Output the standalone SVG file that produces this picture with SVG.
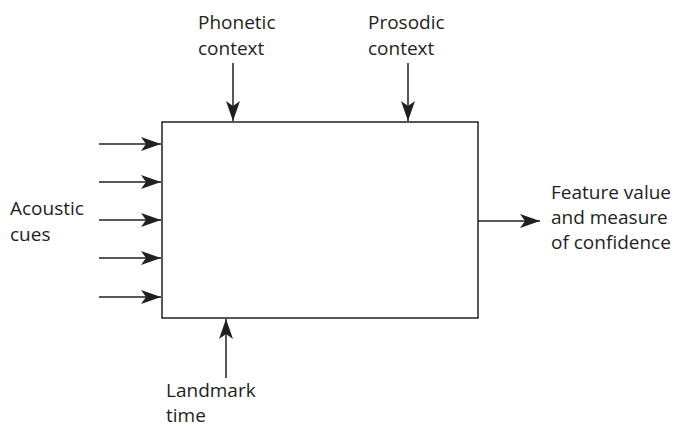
<svg xmlns="http://www.w3.org/2000/svg" width="678" height="427" viewBox="0 0 678 427">
<style>
text{font-family:"Open Sans","Noto Sans","Liberation Sans",sans-serif;font-size:19px;fill:#231f20}
.ln{stroke:#231f20;stroke-width:1.5;fill:none}
</style>
<defs>
<marker id="ah" viewBox="0 0 20 14" refX="20" refY="7" markerWidth="20" markerHeight="14" markerUnits="userSpaceOnUse" orient="auto">
<path d="M0,0 L20,7 L0,14 L5,7 Z" fill="#231f20"/>
</marker>
</defs>
<rect width="678" height="427" fill="#fff"/>
<g id="box"><rect class="ln" x="162" y="122" width="316" height="196"/></g>
<g id="phonetic"><text x="198" y="29">Phonetic</text><text x="198" y="55">context</text></g>
<g id="prosodic"><text x="368" y="29">Prosodic</text><text x="368" y="55">context</text></g>
<g id="acoustic"><text x="10" y="215">Acoustic</text><text x="10" y="241">cues</text></g>
<g id="output"><text x="551" y="199">Feature value</text><text x="551" y="224">and measure</text><text x="551" y="249">of confidence</text></g>
<g id="landmark"><text x="166" y="397">Landmark</text><text x="166" y="422">time</text></g>
<g id="connectors">
<line class="ln" x1="233" y1="63" x2="233" y2="121" marker-end="url(#ah)"/>
<line class="ln" x1="408" y1="63" x2="408" y2="121" marker-end="url(#ah)"/>
<line class="ln" x1="99" y1="144" x2="161" y2="144" marker-end="url(#ah)"/>
<line class="ln" x1="99" y1="182" x2="161" y2="182" marker-end="url(#ah)"/>
<line class="ln" x1="99" y1="220" x2="161" y2="220" marker-end="url(#ah)"/>
<line class="ln" x1="99" y1="258" x2="161" y2="258" marker-end="url(#ah)"/>
<line class="ln" x1="99" y1="297" x2="161" y2="297" marker-end="url(#ah)"/>
<line class="ln" x1="478" y1="221" x2="540" y2="221" marker-end="url(#ah)"/>
<line class="ln" x1="226" y1="378" x2="226" y2="319" marker-end="url(#ah)"/>
</g>
</svg>
